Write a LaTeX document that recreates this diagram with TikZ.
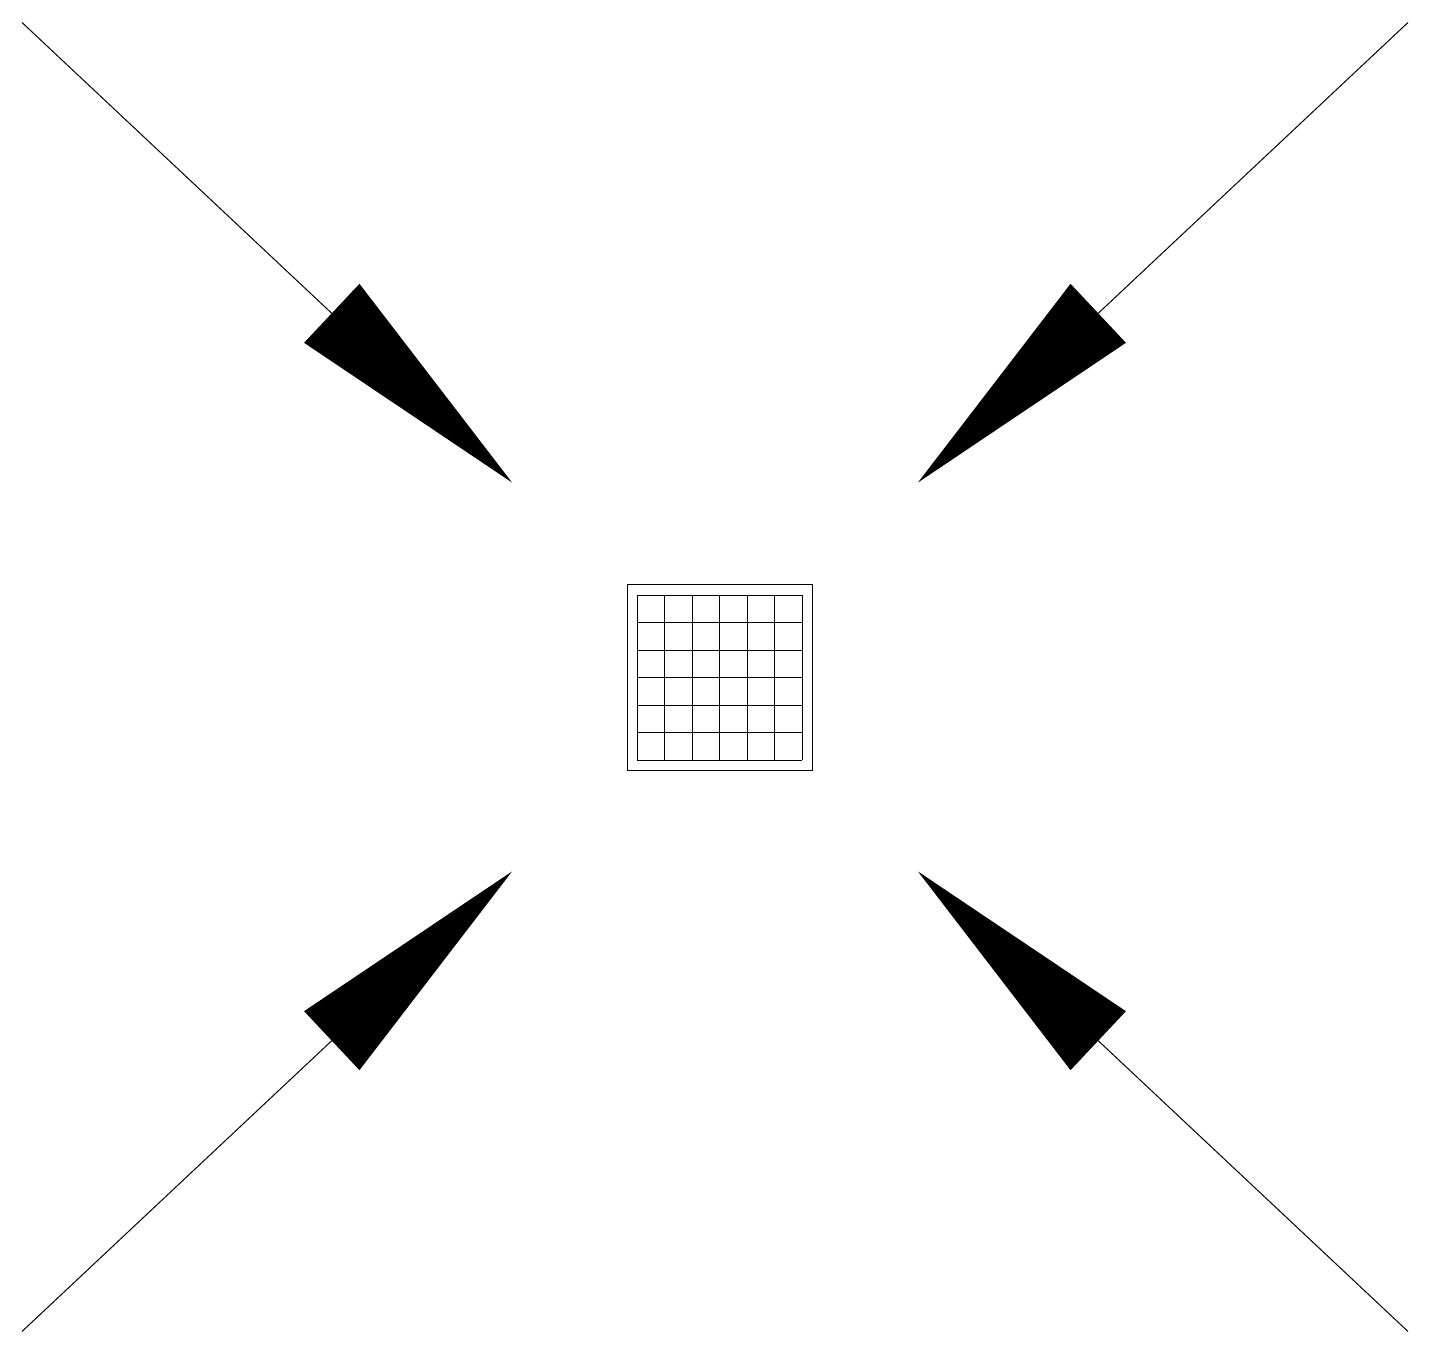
\documentclass[tikz,border=0pt]{standalone}
\usetikzlibrary{arrows.meta}

\begin{document}
\begin{tikzpicture}[x=0.5pt, y=0.5pt, line width=0.5pt,
  pointer/.style={-{Triangle[length=123.6pt, width=40.3pt]}},
]
\useasboundingbox (-715,-677) rectangle (715,677);
% four pointers, corner to tip
\foreach \sx/\sy/\name in {-1/1/nw, 1/1/ne, -1/-1/sw, 1/-1/se}{
  \coordinate (\name corner) at (\sx*693, \sy*654.5);
  \coordinate (\name tip) at (\sx*203, \sy*194.5);
  \draw[pointer] (\name corner) -- (\name tip);
}
% the board in the middle
\node[draw, inner sep=0pt, minimum width=92.5pt, minimum height=93pt] (board) at (4.8,-0.8) {};
\begin{scope}[shift={(board.center)}]
\foreach \i in {0,...,6}{
  \draw (-82.5+\i*27.5, -82.5) -- (-82.5+\i*27.5, 82.5);
  \draw (-82.5, -82.5+\i*27.5) -- (82.5, -82.5+\i*27.5);
}
\end{scope}
\end{tikzpicture}
\end{document}
